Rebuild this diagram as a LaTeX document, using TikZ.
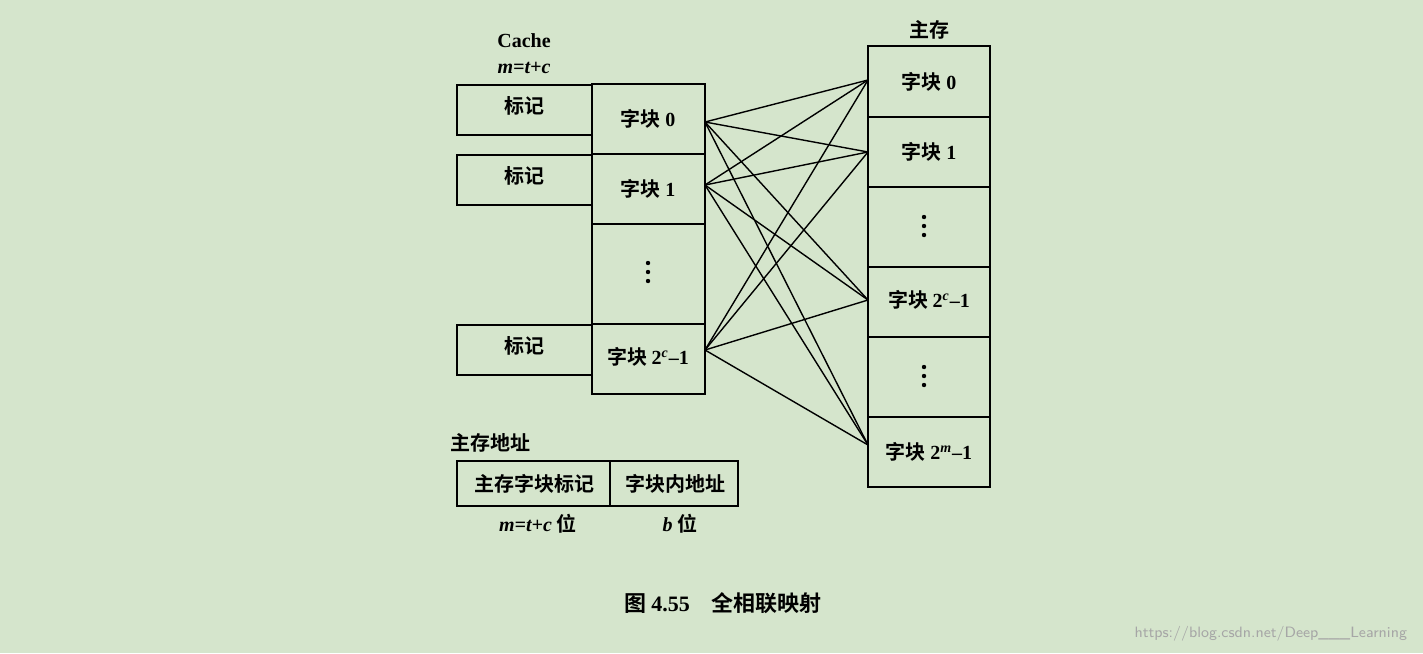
\documentclass[tikz,border=0pt]{standalone}
\usepackage{fontspec}
\setmainfont{Liberation Serif}
\newfontfamily\cjk{Noto Sans CJK SC}[BoldFont={Noto Sans CJK SC Bold}]
\begin{document}
\begin{tikzpicture}[x=0.5pt,y=-0.5pt,
  bx/.style={draw,line width=1.4pt,inner sep=0pt},
  tx/.style={font=\fontsize{10}{12}\selectfont\bfseries\cjk},
  vd/.style={circle,fill,inner sep=0pt,minimum size=2.2pt},
  ln/.style={line width=0.7pt}]
\fill[fill={rgb,255:red,213;green,229;blue,204}] (0,0) rectangle (1423,653);
\useasboundingbox (0,0) rectangle (1423,653);
% cache
\node[tx] (cl) at (524,41) {\rmfamily Cache};
\node[tx] (cm) at (524,68) {\rmfamily\itshape m=t+c};
\foreach \n/\a/\b in {t0/85/135,t1/155/205,t2/325/375}{
  \draw[bx] (457,\a) rectangle (592,\b);
  \node[tx] (\n) at (524,{(\a+\b)/2-4}) {标记};}
\draw[bx] (592,84) rectangle (705,394);
\foreach \y in {154,224,324} \draw[bx] (592,\y) -- (705,\y);
\node[tx] (c0) at (648,119) {字块\ \rmfamily 0};
\node[tx] (c1) at (648,189) {字块\ \rmfamily 1};
\foreach \i/\y in {a/263,b/272,c/281} \node[vd] (cd\i) at (648,\y) {};
\node[tx] (c2) at (648,357) {字块\ \rmfamily 2\textsuperscript{\itshape c}--1};
% main memory
\node[tx] (ml) at (929,30) {主存};
\draw[bx] (868,46) rectangle (990,487);
\foreach \y in {117,187,267,337,417} \draw[bx] (868,\y) -- (990,\y);
\node[tx] (m0) at (929,82) {字块\ \rmfamily 0};
\node[tx] (m1) at (929,152) {字块\ \rmfamily 1};
\foreach \i/\y in {a/217,b/226,c/235} \node[vd] (md\i) at (924,\y) {};
\node[tx] (m2) at (929,300) {字块\ \rmfamily 2\textsuperscript{\itshape c}--1};
\foreach \i/\y in {a/367,b/376,c/385} \node[vd] (me\i) at (924,\y) {};
\node[tx] (m3) at (929,452) {字块\ \rmfamily 2\textsuperscript{\itshape m}--1};
% connectors
\foreach \c/\cy in {a/122,b/185,c/350} \coordinate (s\c) at (705,\cy);
\foreach \m/\my in {0/80,1/152,2/300,3/445} \coordinate (e\m) at (868,\my);
\foreach \c in {a,b,c} \foreach \m in {0,1,2,3} \draw[ln] (s\c) -- (e\m);
% address
\node[tx] (al) at (490,443) {主存地址};
\draw[bx] (457,461) rectangle (738,506);
\draw[bx] (610,461) -- (610,506);
\node[tx] (a1) at (534,484) {主存字块标记};
\node[tx] (a2) at (675,484) {字块内地址};
\node[tx] (b1) at (538,524) {\rmfamily\itshape m=t+c\ \upshape\cjk 位};
\node[tx] (b2) at (680,524) {\rmfamily\itshape b\ \upshape\cjk 位};
\node[tx,font=\fontsize{11}{13}\selectfont\bfseries\cjk] (cap) at (723,603) {图\ \rmfamily 4.55\quad\cjk 全相联映射};
\node[text=gray!70,font=\fontsize{7.5}{9}\selectfont\sffamily,anchor=east] (wm) at (1414,634) {https://blog.csdn.net/Deep\_\_\_Learning};
\end{tikzpicture}
\end{document}
